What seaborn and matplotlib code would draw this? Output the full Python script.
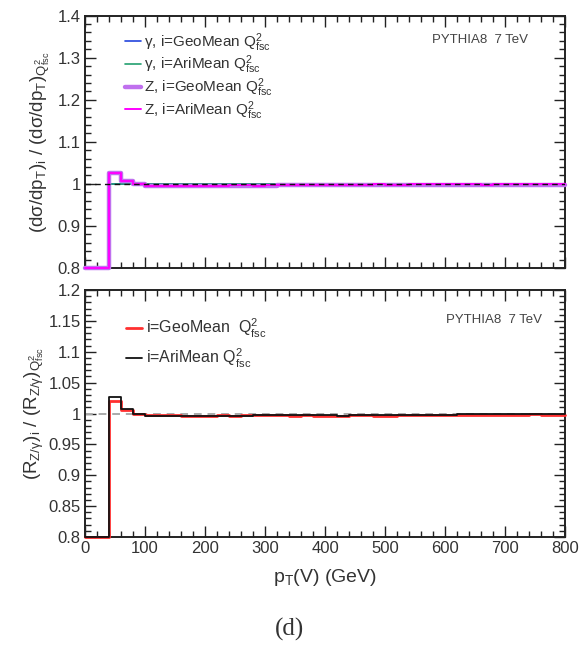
import numpy as np
import pandas as pd
import matplotlib
matplotlib.use("Agg")
import matplotlib.pyplot as plt
from matplotlib.ticker import MultipleLocator
import seaborn as sns

sns.set_theme(style="white")
plt.rcParams["font.family"] = ["Liberation Sans", "DejaVu Sans"]
plt.rcParams["mathtext.fontset"] = "custom"
plt.rcParams["mathtext.rm"] = "Liberation Sans"
plt.rcParams["mathtext.it"] = "Liberation Sans"
plt.rcParams["mathtext.sf"] = "Liberation Sans"

# pT(V) binning, 20 GeV bins from 0 to 800 GeV
bin_edges = list(range(0, 820, 20))

# Upper panel: cross-section ratios to the Q^2_fsc scale choice
gamma_geo = [0.0, 0.0] + [1.0] * 38
gamma_ari = [0.0, 0.0] + [1.0] * 38
z_geo = [0.0, 0.0, 1.025, 1.008, 1.000, 0.995, 0.995, 0.996, 0.995, 0.995,
         0.995, 0.996, 0.996, 0.996, 0.995, 0.996, 0.997, 0.997, 0.997, 0.998,
         0.998, 0.997, 0.998, 0.998, 0.998, 0.998, 0.997, 0.998, 0.998, 0.998,
         0.998, 0.998, 0.998, 0.997, 0.998, 0.998, 0.998, 0.998, 0.998, 0.998]
z_ari = [0.0, 0.0, 1.026, 1.008, 1.000, 0.996, 0.996, 0.996, 0.996, 0.996,
         0.996, 0.996, 0.997, 0.997, 0.996, 0.997, 0.997, 0.998, 0.998, 0.998,
         0.998, 0.998, 0.998, 0.998, 0.999, 0.998, 0.998, 0.999, 0.999, 0.999,
         0.999, 0.999, 0.999, 0.998, 0.999, 0.999, 0.999, 0.999, 0.999, 0.999]

# Lower panel: Z/gamma ratio relative to the Q^2_fsc scale choice
r_geo = [0.0, 0.0, 1.021, 1.006, 1.000, 0.997, 0.997, 0.997, 0.996, 0.996,
         0.996, 0.997, 0.996, 0.997, 0.997, 0.998, 0.997, 0.996, 0.997, 0.996,
         0.996, 0.996, 0.997, 0.997, 0.996, 0.996, 0.997, 0.997, 0.998, 0.998,
         0.997, 0.998, 0.998, 0.998, 0.998, 0.998, 0.998, 0.999, 0.998, 0.998]
r_ari = [0.0, 0.0, 1.027, 1.008, 1.000, 0.996, 0.996, 0.996, 0.996, 0.996,
         0.996, 0.996, 0.996, 0.996, 0.997, 0.998, 0.998, 0.998, 0.998, 0.998,
         0.998, 0.996, 0.998, 0.998, 0.998, 0.998, 0.998, 0.998, 0.998, 0.998,
         0.998, 0.999, 0.999, 0.999, 0.999, 0.999, 0.999, 0.999, 0.999, 0.999]

upper_series = [
    (r"$\gamma$, i=GeoMean $\mathrm{Q}^2_\mathrm{fsc}$", gamma_geo, "#2244dd", 1.2),
    (r"$\gamma$, i=AriMean $\mathrm{Q}^2_\mathrm{fsc}$", gamma_ari, "#22a070", 1.2),
    (r"Z, i=GeoMean $\mathrm{Q}^2_\mathrm{fsc}$", z_geo, "#c070ee", 3.2),
    (r"Z, i=AriMean $\mathrm{Q}^2_\mathrm{fsc}$", z_ari, "#ff00ff", 1.4),
]
lower_series = [
    (r"i=GeoMean  $\mathrm{Q}^2_\mathrm{fsc}$", r_geo, "#ff3030", 2.0),
    (r"i=AriMean $\mathrm{Q}^2_\mathrm{fsc}$", r_ari, "#111111", 1.3),
]


def draw_steps(ax, series, ylo):
    edges = np.array(bin_edges, dtype=float)
    for label, vals, color, lw in series:
        v = np.clip(np.array(vals, dtype=float), ylo, None)
        df = pd.DataFrame({"pt": edges, "ratio": np.append(v, v[-1])})
        sns.lineplot(data=df, x="pt", y="ratio", ax=ax, color=color,
                     linewidth=lw, drawstyle="steps-post", label=label,
                     estimator=None, sort=False, clip_on=False, zorder=3)


def root_frame(ax, ymaj, ymin):
    ax.set_xlim(0, 800)
    ax.xaxis.set_major_locator(MultipleLocator(100))
    ax.xaxis.set_minor_locator(MultipleLocator(20))
    ax.yaxis.set_major_locator(MultipleLocator(ymaj))
    ax.yaxis.set_minor_locator(MultipleLocator(ymin))
    ax.tick_params(which="both", direction="in", top=True, right=True,
                   bottom=True, left=True, color="#222222", width=1.0,
                   labelsize=12, labelcolor="#333333", pad=3)
    ax.tick_params(which="major", length=8)
    ax.tick_params(which="minor", length=4)
    for s in ax.spines.values():
        s.set_color("#222222")
        s.set_linewidth(1.4)
    ax.set_xlabel("")
    ax.set_ylabel("")


fig = plt.figure(figsize=(5.8, 6.45), dpi=100)
ax1 = fig.add_axes([0.1466, 0.5845, 0.8276, 0.3912])
ax2 = fig.add_axes([0.1466, 0.1674, 0.8276, 0.3830])

# Upper panel
draw_steps(ax1, upper_series, 0.8)
ax1.axhline(1.0, color="#111111", lw=1.0, ls=(0, (4, 3)), zorder=4)
ax1.set_ylim(0.8, 1.4)
root_frame(ax1, 0.1, 0.02)
ax1.yaxis.set_major_formatter(plt.FuncFormatter(lambda v, p: f"{v:g}"))
ax1.tick_params(labelbottom=False)
ax1.set_ylabel(r"$(\mathrm{d}\sigma/\mathrm{dp}_\mathrm{T})_\mathrm{i}$ / "
               r"$(\mathrm{d}\sigma/\mathrm{dp}_\mathrm{T})_{\mathrm{Q}^2_\mathrm{fsc}}$",
               fontsize=13.5, color="#333333", labelpad=4)
ax1.text(0.923, 0.905, "PYTHIA8  7 TeV", transform=ax1.transAxes,
         ha="right", va="center", fontsize=9.5, color="#444444")
leg1 = ax1.legend(loc="upper left", bbox_to_anchor=(0.065, 0.975), frameon=False,
                  fontsize=11, handlelength=1.0, handletextpad=0.25,
                  labelspacing=0.0, borderaxespad=0.2)
for t in leg1.get_texts():
    t.set_color("#333333")

# Lower panel
draw_steps(ax2, lower_series, 0.8)
ax2.axhline(1.0, color="#aaaaaa", lw=1.4, ls=(0, (4, 3)), zorder=2)
ax2.set_ylim(0.8, 1.2)
root_frame(ax2, 0.05, 0.01)
ax2.yaxis.set_major_formatter(plt.FuncFormatter(lambda v, p: f"{v:g}"))
ax2.xaxis.set_major_formatter(plt.FuncFormatter(lambda v, p: f"{v:g}"))
ax2.set_ylabel(r"$(\mathrm{R}_{\mathrm{Z}/\gamma})_\mathrm{i}$ / "
               r"$(\mathrm{R}_{\mathrm{Z}/\gamma})_{\mathrm{Q}^2_\mathrm{fsc}}$",
               fontsize=13.5, color="#333333", labelpad=2)
ax2.set_xlabel(r"$\mathrm{p}_\mathrm{T}$(V) (GeV)", fontsize=14,
               color="#333333", labelpad=8)
ax2.text(0.952, 0.878, "PYTHIA8  7 TeV", transform=ax2.transAxes,
         ha="right", va="center", fontsize=9.5, color="#444444")
leg2 = ax2.legend(loc="upper left", bbox_to_anchor=(0.065, 0.93), frameon=False,
                  fontsize=11.5, handlelength=1.0, handletextpad=0.25,
                  labelspacing=0.45, borderaxespad=0.2)
for t in leg2.get_texts():
    t.set_color("#333333")

fig.text(0.5, 1 - 629 / 645, "(d)", ha="center", va="center",
         fontsize=18, family="Liberation Serif", color="#333333")

fig.savefig("out.png", dpi=100)
